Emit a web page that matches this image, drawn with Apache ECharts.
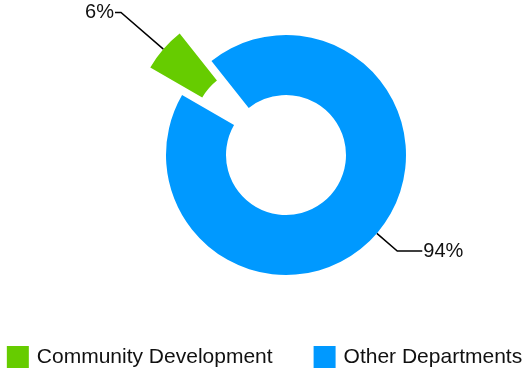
<!DOCTYPE html>
<html>
<head>
<meta charset="utf-8">
<script src="https://cdn.jsdelivr.net/npm/echarts@6/dist/echarts.min.js"></script>
<style>
  html, body { margin: 0; padding: 0; background: #fff; }
  #chart { width: 529px; height: 373px; }
</style>
</head>
<body>
<div id="chart"></div>
<script>
// Share of the budget by department
const categories = ['Community Development', 'Other Departments'];
const shares = [6, 94];
const colors = ['#66cc00', '#0099ff'];

const chart = echarts.init(document.getElementById('chart'), null, { renderer: 'canvas' });

// leader line lengths (first segment, horizontal segment) per slice
const lineLengths = [[56, 6], [27, 25]];

const data = categories.map((name, i) => ({
  name: name,
  value: shares[i],
  selected: i === 0,
  itemStyle: { color: colors[i] },
  labelLine: { length: lineLengths[i][0], length2: lineLengths[i][1] }
}));

chart.setOption({
  animation: false,
  legend: {
    left: 'center',
    top: 341,
    itemWidth: 22,
    itemHeight: 22,
    itemGap: 41,
    icon: 'rect',
    selectedMode: false,
    textStyle: {
      fontFamily: 'Liberation Sans, Arial, sans-serif',
      fontSize: 21,
      color: '#111',
      padding: [0, 0, 0, 3]
    },
    data: categories
  },
  series: [{
    type: 'pie',
    center: [286, 155],
    radius: [60, 120],
    startAngle: 150,
    clockwise: true,
    selectedMode: 'single',
    selectedOffset: 42,
    avoidLabelOverlap: false,
    itemStyle: { borderWidth: 0 },
    emphasis: { disabled: true },
    label: {
      show: true,
      position: 'outside',
      formatter: '{d}%',
      fontFamily: 'Liberation Sans, Arial, sans-serif',
      fontSize: 20,
      color: '#111',
      distanceToLabelLine: 1
    },
    labelLine: {
      show: true,
      lineStyle: { color: '#000', width: 1.5 }
    },
    data: data
  }]
});
</script>
</body>
</html>
